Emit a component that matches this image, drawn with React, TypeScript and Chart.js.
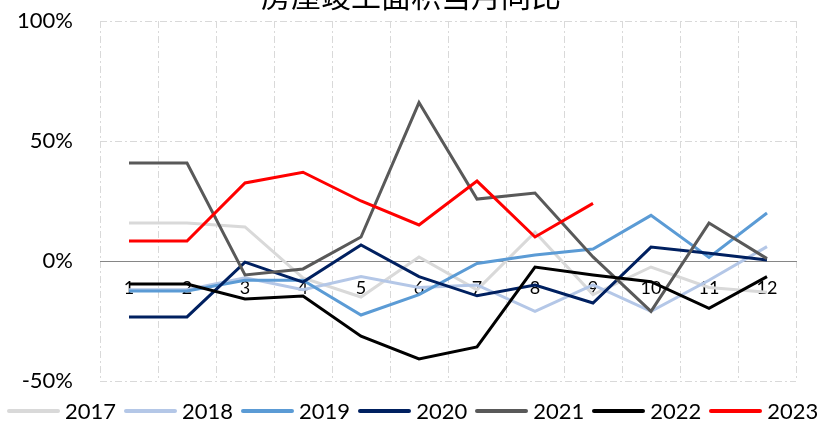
import React, { useEffect, useRef } from 'react';
import { Chart, registerables } from 'chart.js';

Chart.register(...registerables);

const months = ['1', '2', '3', '4', '5', '6', '7', '8', '9', '10', '11', '12'];
const yTicks = [-50, 0, 50, 100];

const y2017 = [15.8, 15.8, 14.2, -7, -15, 1.7, -12, 12, -14, -2.5, -11, -13];
const y2018 = [-12, -12, -7, -12, -6.5, -11, -10, -21, -10, -21, -8, 6];
const y2019 = [-12.5, -12.5, -8, -8, -22.5, -14, -1, 2.5, 5, 19, 1.5, 20];
const y2020 = [-23.3, -23.3, -0.5, -8.8, 6.7, -6.5, -14.5, -10, -17.5, 5.8, 3.2, 0.4];
const y2021 = [40.8, 40.8, -5.8, -3.3, 10, 66, 25.8, 28.3, 1.7, -21, 15.8, 1];
const y2022 = [-9.6, -9.6, -15.8, -14.6, -31.3, -40.8, -35.8, -2.5, -5.8, -8.6, -19.7, -6.5];
const y2023 = [8.3, 8.3, 32.5, 37, 25, 15, 33.3, 10, 24, null, null, null];

const seriesNames = ['2017', '2018', '2019', '2020', '2021', '2022', '2023'];
const seriesData = [y2017, y2018, y2019, y2020, y2021, y2022, y2023];
const seriesColors = ['#D9D9D9', '#B4C7E7', '#5B9BD5', '#002060', '#595959', '#000000', '#FF0000'];

const title = '房屋竣工面积当月同比';

export default function App() {
  const ref = useRef<HTMLCanvasElement>(null);

  useEffect(() => {
    const n = seriesNames.length;
    const chart = new Chart(ref.current as HTMLCanvasElement, {
      type: 'line',
      data: {
        labels: months,
        datasets: seriesNames.map((name, i) => ({
          label: name,
          data: seriesData[i],
          borderColor: seriesColors[i],
          backgroundColor: seriesColors[i],
          borderWidth: 3,
          pointRadius: 0,
          pointHoverRadius: 0,
          tension: 0,
          order: n - 1 - i,
          spanGaps: false,
        })),
      },
      options: {
        responsive: false,
        animation: false,
        layout: { autoPadding: false, padding: { left: 0, right: 35, top: 41, bottom: 43 } },
        plugins: {
          legend: { display: false },
          title: { display: false },
          tooltip: { enabled: false },
        },
        scales: {
          x: {
            position: { y: 0 } as any,
            offset: true,
            grid: { offset: true, color: '#D9D9D9', lineWidth: 1, drawTicks: false },
            border: { display: true, color: '#868686', width: 1, dash: [7, 3, 2, 3] },
            ticks: {
              font: { family: 'Lato', size: 18 },
              color: '#000',
              padding: 16,
              autoSkip: false,
              maxRotation: 0,
            },
          },
          y: {
            min: yTicks[0],
            max: yTicks[yTicks.length - 1],
            afterBuildTicks: (scale: any) => {
              scale.ticks = yTicks.map((v) => ({ value: v }));
            },
            afterFit: (scale: any) => {
              scale.width = 100;
            },
            ticks: {
              font: { family: 'Lato', size: 22 },
              color: '#000',
              padding: 27,
              callback: (v: any) => v + '%',
            },
            grid: {
              color: (ctx: any) => (ctx.tick && ctx.tick.value === 0 ? 'rgba(0,0,0,0)' : '#D9D9D9'),
              lineWidth: 1,
              drawTicks: false,
            },
            border: { display: false, dash: [7, 3, 2, 3] },
          },
        },
      },
    });
    return () => chart.destroy();
  }, []);

  return (
    <div
      style={{
        position: 'fixed',
        left: 0,
        top: 0,
        width: 831,
        height: 424,
        overflow: 'hidden',
        background: '#fff',
      }}
    >
      <canvas ref={ref} width={831} height={444} style={{ position: 'absolute', left: 0, top: -20 }} />
      <div
        style={{
          position: 'absolute',
          left: 0,
          top: -21,
          width: 822,
          textAlign: 'center',
          fontFamily: '"Noto Sans CJK SC"',
          fontSize: 30,
          lineHeight: '30px',
          color: '#000',
          whiteSpace: 'nowrap',
        }}
      >
        {title}
      </div>
      <div
        style={{
          position: 'absolute',
          left: 7,
          top: 398,
          height: 26,
          display: 'flex',
          alignItems: 'center',
          fontFamily: 'Lato',
          fontSize: 22,
          lineHeight: '26px',
          color: '#000',
          whiteSpace: 'nowrap',
        }}
      >
        {seriesNames.map((name, i) => (
          <div key={name} style={{ display: 'flex', alignItems: 'center', marginRight: 8 }}>
            <div style={{ width: 53, height: 4, background: seriesColors[i], marginRight: 5, borderRadius: 2 }} />
            <span>{name}</span>
          </div>
        ))}
      </div>
    </div>
  );
}
